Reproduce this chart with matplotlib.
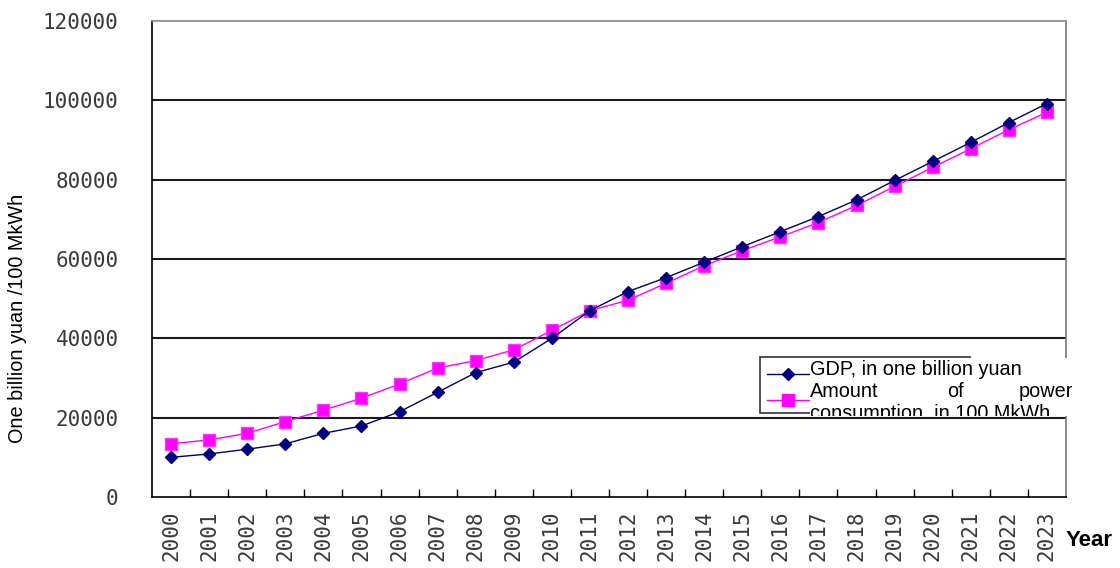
import numpy as np
import matplotlib
matplotlib.use('Agg')
import matplotlib.pyplot as plt
from matplotlib.patches import Rectangle
from matplotlib.lines import Line2D

years = [str(y) for y in range(2000, 2024)]
gdp = [10000, 10850, 12050, 13400, 16050, 17900, 21500, 26400, 31350, 34000,
       40000, 47000, 51800, 55300, 59200, 63100, 66900, 70700, 74900, 79800,
       84600, 89400, 94400, 99200]
power = [13400, 14400, 16050, 19000, 21900, 24900, 28500, 32500, 34400, 37100,
         42000, 47000, 49600, 53900, 58300, 62100, 65600, 69200, 73500, 78300,
         83100, 87800, 92600, 97000]
y_ticks = [0, 20000, 40000, 60000, 80000, 100000, 120000]

W, H = 1120, 568


def fx(x):
    return x / W


def fy(y):
    return 1 - y / H


fig = plt.figure(figsize=(W / 100, H / 100), dpi=100)
ax = fig.add_axes([fx(152), fy(497), fx(1066) - fx(152), fy(21) - fy(497)])

x = np.arange(len(years))
ax.plot(x, power, color='#ff00ff', lw=1.0, marker='s', ms=8.5,
        mfc='#ff00ff', mec='#ff33ff', zorder=3)
ax.plot(x, gdp, color='#000066', lw=1.0, marker='D', ms=6,
        mfc='#000080', mec='#000080', zorder=4)

ax.set_xlim(-0.5, len(years) - 0.5)
ax.set_ylim(0, 120000)
ax.set_yticks(y_ticks)
ax.set_yticklabels([str(v) for v in y_ticks])
for v in y_ticks[1:-1]:
    ax.axhline(v, color='#1a1a1a', lw=1.5, zorder=1)

ax.set_xticks(x)
ax.set_xticklabels(years, rotation=90)
ax.set_xticks(np.arange(0.5, len(years) - 1, 1), minor=True)
ax.tick_params(axis='x', which='major', length=0, pad=10)
ax.tick_params(axis='x', which='minor', direction='in', length=6, width=1, color='black')
ax.tick_params(axis='y', length=0, pad=24)
for lab in ax.get_xticklabels() + ax.get_yticklabels():
    lab.set_fontfamily('DejaVu Sans Mono')
    lab.set_fontsize(15)
    lab.set_color('#3a3a3a')

ax.spines['left'].set_color('black')
ax.spines['left'].set_linewidth(1.2)
ax.spines['bottom'].set_color('black')
ax.spines['bottom'].set_linewidth(1.2)
ax.spines['top'].set_color('#888888')
ax.spines['top'].set_linewidth(1.2)
ax.spines['right'].set_color('#777777')
ax.spines['right'].set_linewidth(1.2)

fig.text(fx(18), fy(318), 'One billion yuan /100 MkWh', rotation=90,
         ha='center', va='center', fontsize=14.3, family='Liberation Sans')
fig.text(fx(1066), fy(540), 'Year', ha='left', va='center', fontsize=16,
         fontweight='bold', family='Liberation Sans')

# legend
frame = Rectangle((fx(760), fy(413)), fx(970) - fx(760), fy(357) - fy(413),
                  transform=fig.transFigure, fill=False, ec='#333333', lw=1.2, zorder=5)
fig.add_artist(frame)
fig.add_artist(Line2D([fx(767), fx(810)], [fy(374), fy(374)], transform=fig.transFigure,
                      color='#000066', lw=1.0, zorder=6))
fig.add_artist(Line2D([fx(788)], [fy(374)], transform=fig.transFigure, color='#000080',
                      marker='D', ms=6, ls='none', zorder=6))
fig.add_artist(Line2D([fx(767), fx(810)], [fy(400), fy(400)], transform=fig.transFigure,
                      color='#ff00ff', lw=1.0, zorder=6))
fig.add_artist(Line2D([fx(788)], [fy(400)], transform=fig.transFigure, color='#ff00ff',
                      marker='s', ms=8.5, ls='none', zorder=6))

box = Rectangle((fx(810), fy(416)), fx(1073) - fx(810), fy(358) - fy(416),
                transform=fig.transFigure, fc='white', ec='none', zorder=7)
fig.add_artist(box)
tkw = dict(fontsize=14.3, family='Liberation Sans', va='baseline', zorder=8, color='black')
texts = [
    fig.text(fx(810), fy(375), 'GDP, in one billion yuan', ha='left', **tkw),
    fig.text(fx(810), fy(397), 'Amount', ha='left', **tkw),
    fig.text(fx(955), fy(397), 'of', ha='center', **tkw),
    fig.text(fx(1073), fy(397), 'power', ha='right', **tkw),
    fig.text(fx(810), fy(419), 'consumption, in 100 MkWh', ha='left', **tkw),
]
for t in texts:
    t.set_clip_path(box)

fig.savefig('out.png', dpi=100)
